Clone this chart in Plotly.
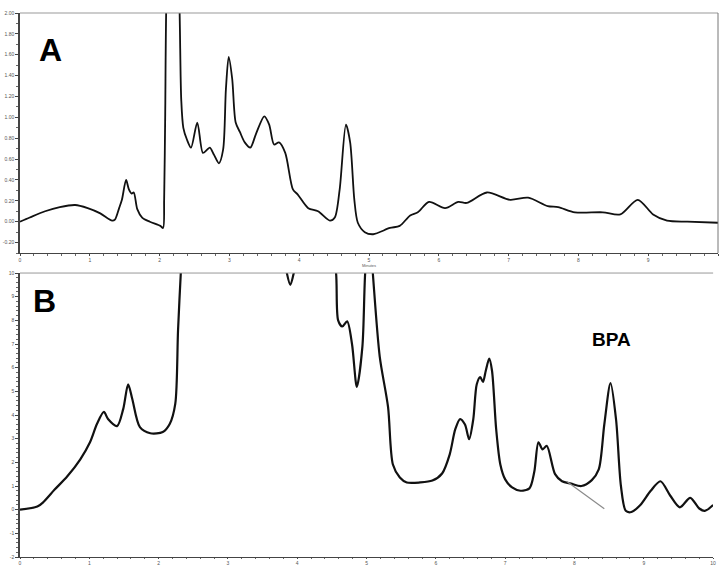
import plotly.graph_objects as go
from plotly.subplots import make_subplots

# ---------- Panel A chromatogram (minutes, absorbance) ----------
time_a = [0, 0.14, 0.36, 0.57, 0.79, 0.97, 1.15, 1.32, 1.36, 1.42, 1.46, 1.52, 1.56, 1.60, 1.63,
          1.68, 1.75, 1.86, 2.01, 2.05, 2.065, 2.08, 2.10, 2.19, 2.28, 2.31, 2.34, 2.39, 2.45,
          2.54, 2.62, 2.68, 2.72, 2.78, 2.85, 2.91, 2.95, 2.99, 3.04, 3.09, 3.15, 3.22, 3.30,
          3.38, 3.50, 3.57, 3.64, 3.71, 3.80, 3.91, 3.98, 4.13, 4.27, 4.44, 4.51, 4.58, 4.67,
          4.73, 4.79, 4.84, 4.94, 5.06, 5.30, 5.44, 5.59, 5.70, 5.86, 6.09, 6.28, 6.40, 6.69,
          7.02, 7.28, 7.56, 7.71, 7.95, 8.35, 8.60, 8.85, 9.07, 9.27, 9.56, 10.0]
signal_a = [0, 0.04, 0.10, 0.14, 0.16, 0.13, 0.08, 0.01, 0.02, 0.13, 0.21, 0.40, 0.31, 0.27, 0.28,
            0.12, 0.04, 0.00, -0.04, -0.06, 0.21, 1.0, 2.2, 3.5, 2.2, 1.17, 0.90, 0.79, 0.71,
            0.95, 0.66, 0.69, 0.71, 0.64, 0.56, 0.69, 1.27, 1.58, 1.37, 0.95, 0.86, 0.76, 0.71,
            0.84, 1.01, 0.93, 0.74, 0.76, 0.66, 0.31, 0.26, 0.13, 0.10, 0.01, 0.04, 0.31, 0.93,
            0.76, 0.21, -0.01, -0.10, -0.12, -0.06, -0.04, 0.06, 0.09, 0.19, 0.13, 0.19, 0.18, 0.28,
            0.21, 0.23, 0.15, 0.14, 0.09, 0.09, 0.07, 0.21, 0.07, 0.01, 0.00, -0.01]

# ---------- Panel B chromatogram ----------
time_b = [0, 0.25, 0.33, 0.50, 0.68, 0.87, 1.01, 1.11, 1.21, 1.27, 1.40, 1.49, 1.56, 1.62, 1.73,
          1.88, 2.06, 2.16, 2.24, 2.28, 2.32, 2.40, 3.00, 3.60, 3.80, 3.85, 3.90, 3.95, 4.00,
          4.30, 4.50, 4.56, 4.59, 4.65, 4.72, 4.79, 4.86, 4.94, 4.98, 5.04, 5.09, 5.19, 5.31,
          5.38, 5.48, 5.58, 5.77, 5.95, 6.09, 6.20, 6.28, 6.35, 6.42, 6.48, 6.54, 6.59, 6.64,
          6.68, 6.72, 6.77, 6.81, 6.87, 6.93, 7.00, 7.10, 7.22, 7.35, 7.42, 7.48, 7.54, 7.60,
          7.72, 7.82, 7.95, 8.10, 8.25, 8.35, 8.43, 8.52, 8.60, 8.67, 8.74, 8.82, 8.95, 9.10,
          9.24, 9.38, 9.52, 9.67, 9.80, 9.88, 10.0]
signal_b = [0, 0.13, 0.30, 0.85, 1.40, 2.13, 2.85, 3.62, 4.13, 3.83, 3.53, 4.26, 5.30, 4.68, 3.49,
            3.23, 3.28, 3.62, 4.47, 7.57, 10.0, 14, 18, 14, 11, 10.0, 9.5, 10.0, 11,
            14, 11, 10.0, 8.0, 7.74, 7.96, 7.0, 5.19, 6.89, 10.0, 12, 10.0, 6.47, 4.34,
            1.91, 1.36, 1.15, 1.15, 1.23, 1.53, 2.34, 3.4, 3.83, 3.6, 2.98, 3.83, 5.3, 5.6,
            5.4, 5.87, 6.38, 5.87, 3.4, 1.91, 1.28, 0.94, 0.80, 0.90, 1.60, 2.85, 2.55, 2.70,
            1.50, 1.20, 1.10, 1.00, 1.25, 1.70, 3.60, 5.35, 3.80, 1.00, -0.05, -0.10, 0.20, 0.80,
            1.20, 0.60, 0.10, 0.50, 0.05, -0.05, 0.20]

# integration baseline drawn under the BPA peak
base_t = [7.89, 8.43]
base_s = [1.19, 0.04]

xticks = list(range(0, 11))
yticks_a = [-0.2, 0.0, 0.2, 0.4, 0.6, 0.8, 1.0, 1.2, 1.4, 1.6, 1.8, 2.0]
yticks_b = list(range(-2, 11))

fig = make_subplots(rows=2, cols=1)

fig.add_trace(go.Scatter(x=time_a, y=signal_a, mode="lines",
                         line=dict(color="#111111", width=1.8, shape="spline", smoothing=0.8),
                         showlegend=False), row=1, col=1)
fig.add_trace(go.Scatter(x=time_b, y=signal_b, mode="lines",
                         line=dict(color="#111111", width=2.2, shape="spline", smoothing=0.8),
                         showlegend=False), row=2, col=1)
fig.add_trace(go.Scatter(x=base_t, y=base_s, mode="lines",
                         line=dict(color="#8a8a8a", width=1.2),
                         showlegend=False), row=2, col=1)

tickfont = dict(family="Liberation Sans", size=5, color="#555555")
common_x = dict(range=[0, 10], tickvals=xticks, ticktext=[str(v) for v in xticks],
                ticks="outside", ticklen=2, tickcolor="#444", tickfont=tickfont,
                showline=True, linecolor="#444", linewidth=1, mirror=False,
                showgrid=False, zeroline=False, automargin=False,
                minor=dict(dtick=0.2, ticks="outside", ticklen=2, tickcolor="#666"))

fig.update_layout(
    width=720, height=565,
    margin=dict(l=20, r=2, t=13, b=8, autoexpand=False),
    paper_bgcolor="white", plot_bgcolor="white",
    font=dict(family="Liberation Sans"),
    xaxis=dict(common_x, domain=[0, 1], anchor="y",
               title=dict(text="Minutes", font=dict(size=4, color="#555"), standoff=0)),
    yaxis=dict(range=[-0.3, 2.0], domain=[0.5588, 1.0], anchor="x", automargin=False,
               tickvals=yticks_a, ticktext=[f"{v:.2f}" for v in yticks_a],
               ticks="outside", ticklen=3, tickcolor="#444", tickfont=tickfont,
               showline=True, linecolor="#444", linewidth=1.5, showgrid=False, zeroline=False,
               minor=dict(dtick=0.1, ticks="outside", ticklen=2, tickcolor="#666")),
    xaxis2=dict(common_x, domain=[0, 0.993], anchor="y2", ticklen=1,
                minor=dict(dtick=0.2, ticks="outside", ticklen=1, tickcolor="#666")),
    yaxis2=dict(range=[-2, 10], domain=[0, 0.522], anchor="x2", automargin=False,
                tickvals=yticks_b, ticktext=[str(v) for v in yticks_b],
                ticks="outside", ticklen=3, tickcolor="#444", tickfont=tickfont,
                showline=True, linecolor="#444", linewidth=1.5, showgrid=False, zeroline=False,
                minor=dict(dtick=0.2, ticks="outside", ticklen=2, tickcolor="#666")),
    yaxis3=dict(range=[-2, 10], overlaying="y2", side="right", anchor="x2", automargin=False,
                tickvals=yticks_b, ticktext=[str(v) for v in yticks_b],
                ticks="outside", ticklen=2, tickcolor="#444", tickfont=tickfont,
                showline=True, linecolor="#444", linewidth=1, showgrid=False, zeroline=False,
                minor=dict(dtick=0.2, ticks="outside", ticklen=2, tickcolor="#666")),
)

# top borders (gray) and right border of panel A
fig.add_shape(type="line", xref="x domain", yref="y domain", x0=0, x1=1, y0=1, y1=1,
              line=dict(color="#999999", width=1))
fig.add_shape(type="line", xref="x domain", yref="y domain", x0=1, x1=1, y0=0, y1=1,
              line=dict(color="#777777", width=1))
fig.add_shape(type="line", xref="x2 domain", yref="y2 domain", x0=0, x1=1, y0=1, y1=1,
              line=dict(color="#999999", width=1))

fig.add_annotation(text="<b>A</b>", xref="x", yref="y", x=0.43, y=1.65, showarrow=False,
                   font=dict(family="Liberation Sans", size=32, color="black"))
fig.add_annotation(text="<b>B</b>", xref="x2", yref="y2", x=0.36, y=8.8, showarrow=False,
                   font=dict(family="Liberation Sans", size=32, color="black"))
fig.add_annotation(text="<b>BPA</b>", xref="x2", yref="y2", x=8.53, y=7.2, showarrow=False,
                   font=dict(family="Liberation Sans", size=19, color="black"))

fig.write_html("out.html", config={"displayModeBar": False},
               post_script="document.body.style.margin='0px';document.body.style.overflow='hidden';")
